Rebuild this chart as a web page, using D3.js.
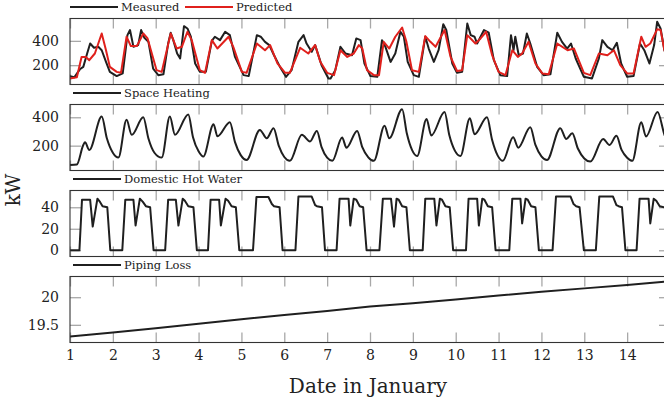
<!DOCTYPE html>
<html>
<head>
<meta charset="utf-8">
<script src="https://d3js.org/d3.v7.min.js"></script>
<style>
  body { margin: 0; background: #fff; }
  text { font-family: "DejaVu Serif", serif; fill: #222; }
</style>
</head>
<body>
<svg id="chart" width="664" height="406"></svg>
<script>
// x ticks (day of January)
const dayTicks = d3.range(1, 16);

// panel 1: measured vs predicted total load [day, kW]
const measured = [[1.0,110],[1.10,100],[1.23,166],[1.31,186],[1.40,296],[1.47,378],[1.56,343],[1.66,351],[1.74,323],[1.84,227],[1.93,145],[2.09,110],[2.23,132],[2.34,447],[2.40,489],[2.48,351],[2.59,365],[2.66,489],[2.73,428],[2.83,392],[2.94,172],[3.06,118],[3.18,125],[3.29,378],[3.35,467],[3.41,406],[3.50,296],[3.57,255],[3.66,521],[3.74,502],[3.82,434],[3.92,214],[4.03,145],[4.17,145],[4.31,400],[4.38,434],[4.50,406],[4.62,475],[4.73,447],[4.85,268],[5.05,118],[5.17,110],[5.36,447],[5.45,434],[5.55,392],[5.65,365],[5.76,282],[5.90,186],[6.04,104],[6.17,159],[6.33,392],[6.45,447],[6.52,378],[6.64,310],[6.72,365],[6.87,200],[7.03,91],[7.08,91],[7.19,159],[7.31,351],[7.43,296],[7.58,282],[7.68,420],[7.78,406],[7.87,214],[8.01,110],[8.17,104],[8.28,406],[8.36,351],[8.48,227],[8.59,296],[8.71,475],[8.79,434],[8.88,227],[9.02,118],[9.14,104],[9.29,434],[9.37,337],[9.49,227],[9.60,323],[9.71,537],[9.78,489],[9.92,214],[10.03,137],[10.15,145],[10.27,543],[10.35,447],[10.44,434],[10.50,378],[10.66,489],[10.77,467],[10.89,241],[11.04,118],[11.20,110],[11.29,447],[11.35,323],[11.39,434],[11.47,282],[11.57,296],[11.66,461],[11.74,378],[11.90,186],[12.05,118],[12.21,125],[12.37,467],[12.48,392],[12.60,337],[12.69,378],[12.80,255],[12.99,104],[13.18,91],[13.34,255],[13.42,406],[13.54,351],[13.66,323],[13.76,384],[13.86,214],[14.00,104],[14.15,110],[14.30,378],[14.40,323],[14.52,214],[14.63,365],[14.70,557],[14.78,502],[14.87,323],[14.95,250]];

const predicted = [[1.0,91],[1.16,100],[1.27,268],[1.37,268],[1.45,241],[1.58,296],[1.74,461],[1.84,323],[1.93,186],[2.09,145],[2.19,137],[2.32,434],[2.42,357],[2.56,357],[2.71,461],[2.81,420],[3.02,159],[3.14,145],[3.35,461],[3.49,337],[3.61,351],[3.74,475],[3.84,406],[4.03,159],[4.15,137],[4.31,406],[4.44,337],[4.70,434],[4.81,351],[5.01,145],[5.12,137],[5.36,378],[5.55,323],[5.67,365],[5.84,214],[6.02,137],[6.13,137],[6.37,343],[6.56,296],[6.72,365],[6.84,228],[7.0,137],[7.16,118],[7.31,323],[7.47,268],[7.62,296],[7.74,365],[7.82,337],[7.93,159],[8.09,118],[8.21,118],[8.32,392],[8.45,337],[8.59,434],[8.75,510],[8.85,392],[8.98,159],[9.14,145],[9.29,439],[9.41,392],[9.53,351],[9.74,489],[9.88,268],[10.03,152],[10.15,159],[10.27,447],[10.46,378],[10.58,420],[10.71,475],[10.85,282],[11.0,145],[11.16,118],[11.32,323],[11.45,268],[11.55,296],[11.70,392],[11.86,214],[12.02,132],[12.17,125],[12.37,378],[12.61,323],[12.76,337],[12.99,137],[13.14,118],[13.34,296],[13.54,282],[13.69,323],[13.84,200],[14.0,132],[14.15,132],[14.33,434],[14.43,351],[14.54,378],[14.70,495],[14.78,489],[14.87,323],[14.95,250]];

// panel 2: space heating [day, kW]
const spaceHeating = [[1.0,64],[1.16,68],[1.31,205],[1.35,224],[1.45,170],[1.74,405],[1.86,252],[2.0,150],[2.13,116],[2.32,382],[2.44,276],[2.71,400],[2.83,250],[2.97,150],[3.14,116],[3.33,405],[3.45,276],[3.76,420],[3.87,260],[4.0,160],[4.11,123],[4.35,351],[4.44,266],[4.73,365],[4.85,225],[4.98,135],[5.12,99],[5.43,311],[5.59,252],[5.75,323],[5.87,200],[6.0,120],[6.13,93],[6.41,276],[6.60,229],[6.76,304],[6.87,190],[7.0,115],[7.12,93],[7.35,257],[7.45,186],[7.70,304],[7.82,190],[7.96,118],[8.09,93],[8.34,341],[8.45,252],[8.75,457],[8.86,285],[8.98,170],[9.10,127],[9.32,387],[9.43,272],[9.74,437],[9.85,275],[9.98,165],[10.11,127],[10.33,393],[10.44,280],[10.73,400],[10.85,240],[10.98,130],[11.10,93],[11.34,259],[11.46,186],[11.74,330],[11.86,205],[12.0,125],[12.13,99],[12.44,323],[12.58,247],[12.72,287],[12.85,180],[13.0,110],[13.14,88],[13.44,247],[13.59,205],[13.75,269],[13.87,170],[14.0,115],[14.12,93],[14.33,365],[14.44,264],[14.71,437],[14.87,278],[14.95,220]];

// panel 3: domestic hot water [day, kW]
const hotWater = [[1.0,0],[1.22,0],[1.28,47],[1.47,47],[1.53,22],[1.64,48],[1.70,45],[1.76,41],[1.87,40],[1.94,0],
[2.22,0],[2.29,47],[2.48,47],[2.53,23],[2.63,48],[2.70,45],[2.77,41],[2.87,40],[2.95,0],
[3.22,0],[3.29,47],[3.47,47],[3.53,23],[3.63,48],[3.68,46],[3.76,41],[3.88,40],[3.96,0],
[4.22,0],[4.28,47],[4.48,47],[4.52,23],[4.63,48],[4.69,46],[4.77,41],[4.87,40],[4.95,0],
[5.27,0],[5.35,49.5],[5.63,49.5],[5.71,43],[5.76,41],[5.89,40],[5.96,0],
[6.26,0],[6.33,50],[6.64,50],[6.72,42],[6.76,41],[6.88,40],[6.95,0],
[7.22,0],[7.29,48],[7.50,48],[7.54,23],[7.62,48],[7.68,47],[7.76,41],[7.84,40],[7.92,0],
[8.22,0],[8.30,48],[8.49,48],[8.56,22],[8.62,48],[8.67,47],[8.75,41],[8.85,40],[8.93,0],
[9.23,0],[9.29,48],[9.50,48],[9.55,23],[9.63,48],[9.68,47],[9.76,41],[9.86,40],[9.94,0],
[10.24,0],[10.30,48],[10.50,48],[10.54,23],[10.62,48],[10.67,47],[10.75,41],[10.85,40],[10.93,0],
[11.25,0],[11.32,48],[11.51,48],[11.55,25],[11.63,48],[11.68,47],[11.76,41],[11.86,40],[11.94,0],
[12.26,0],[12.34,50],[12.68,50],[12.75,43],[12.81,41],[12.89,40],[12.99,0],
[13.27,0],[13.35,50],[13.67,50],[13.75,42],[13.80,41],[13.88,40],[13.96,0],
[14.22,0],[14.29,48],[14.50,48],[14.54,25],[14.62,48],[14.68,46],[14.76,41],[14.87,40],[14.95,38]];

// panel 4: piping loss [day, kW]
const pipingLoss = [[1,19.29],[2,19.36],[3,19.44],[4,19.52],[5,19.60],[6,19.68],[7,19.75],[8,19.83],[9,19.89],[10,19.96],[11,20.03],[12,20.10],[13,20.16],[14,20.22],[15,20.29]];

const yTicks1 = [200, 400];
const yTicks2 = [200, 400];
const yTicks3 = [0, 20, 40];
const yTicks4 = [19.5, 20];

const svg = d3.select("#chart");
const left = 70, right = 670, panelH = 66;
const x = d3.scaleLinear().domain([1, 15]).range([left, right]);

const panels = [
  { top: 18.5, domain: [41, 584], ticks: yTicks1, curve: d3.curveLinear,
    series: [{ data: measured, color: "#1f1f1f", name: "Measured", lx: 70 },
             { data: predicted, color: "#e0201c", name: "Predicted", lx: 185 }] },
  { top: 104.5, domain: [25, 490], ticks: yTicks2, curve: d3.curveMonotoneX,
    series: [{ data: spaceHeating, color: "#1f1f1f", name: "Space Heating", lx: 73 }] },
  { top: 190.5, domain: [-5.8, 55.6], ticks: yTicks3, curve: d3.curveLinear,
    series: [{ data: hotWater, color: "#1f1f1f", name: "Domestic Hot Water", lx: 73 }] },
  { top: 276.5, domain: [19.18, 20.375], ticks: yTicks4, curve: d3.curveLinear,
    series: [{ data: pipingLoss, color: "#1f1f1f", name: "Piping Loss", lx: 73 }] }
];

panels.forEach((p, i) => {
  const y = d3.scaleLinear().domain(p.domain).range([p.top + panelH, p.top]);
  const g = svg.append("g");

  g.append("clipPath").attr("id", "clip" + i)
    .append("rect").attr("x", left).attr("y", p.top).attr("width", right - left).attr("height", panelH);

  // inside ticks, gray, mirrored on all sides
  const isLast = i === panels.length - 1;
  const xb = g.append("g").attr("transform", `translate(0,${p.top + panelH})`)
    .call(d3.axisBottom(x).tickValues(dayTicks).tickSize(-10).tickPadding(8)
      .tickFormat(d => (isLast && d < 15) ? d : ""));
  const xt = g.append("g").attr("transform", `translate(0,${p.top})`)
    .call(d3.axisTop(x).tickValues(dayTicks).tickSize(-10).tickFormat(""));
  const yl = g.append("g").attr("transform", `translate(${left},0)`)
    .call(d3.axisLeft(y).tickValues(p.ticks).tickSize(-11).tickPadding(11).tickFormat(d => d));
  const yr = g.append("g").attr("transform", `translate(${right},0)`)
    .call(d3.axisRight(y).tickValues(p.ticks).tickSize(-11).tickFormat(""));
  [xb, xt, yl, yr].forEach(a => {
    a.select(".domain").remove();
    a.selectAll(".tick line").attr("stroke", "#a8a8a8").attr("stroke-width", 1.3);
    a.selectAll(".tick text").style("font-family", "DejaVu Serif, serif").style("font-size", "14px").attr("fill", "#222");
  });

  const line = d3.line().x(d => x(d[0])).y(d => y(d[1])).curve(p.curve);
  p.series.forEach(s => {
    g.append("path").datum(s.data)
      .attr("clip-path", `url(#clip${i})`)
      .attr("fill", "none").attr("stroke", s.color).attr("stroke-width", 2)
      .attr("stroke-linejoin", "round").attr("d", line);

    // legend above the panel
    const ly = p.top - 11.5;
    g.append("line").attr("x1", s.lx).attr("x2", s.lx + 48).attr("y1", ly).attr("y2", ly)
      .attr("stroke", s.color).attr("stroke-width", 2);
    g.append("text").attr("x", s.lx + 51).attr("y", ly + 4)
      .style("font-size", "11.5px").text(s.name);
  });

  g.append("rect").attr("x", left).attr("y", p.top).attr("width", right - left).attr("height", panelH)
    .attr("fill", "none").attr("stroke", "#333").attr("stroke-width", 1.1);
});

svg.append("text").attr("x", 368).attr("y", 393).attr("text-anchor", "middle")
  .style("font-size", "20px").text("Date in January");
svg.append("text").attr("transform", "translate(20,190) rotate(-90)").attr("text-anchor", "middle")
  .style("font-size", "20px").text("kW");
</script>
</body>
</html>
